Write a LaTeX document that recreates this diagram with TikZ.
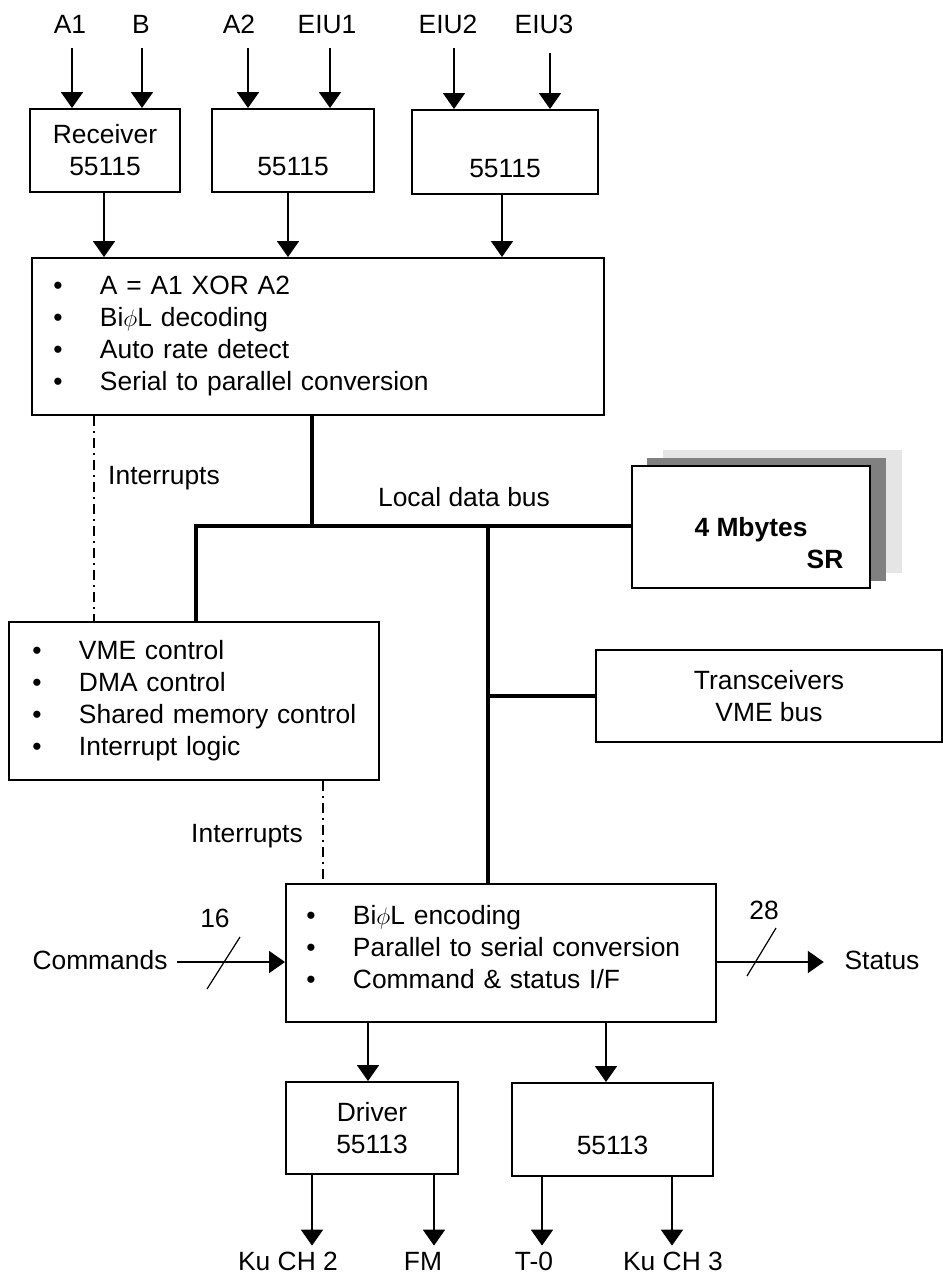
\documentclass[tikz,border=0pt]{standalone}
\usepackage{fontspec}
\setmainfont{Liberation Sans}
\usetikzlibrary{arrows.meta,calc}
\newcommand\dfont{\fontsize{13.2}{16}\selectfont}
\newcommand\bitem[1]{\mbox{\makebox[23.3pt][l]{\textbullet}#1}}
\tikzset{
  blk/.style={draw,line width=1pt,align=center,inner sep=0pt},
  lst/.style={draw,line width=1pt,align=left,inner ysep=0pt},
  lbl/.style={inner sep=0pt,text height=9.5pt,text depth=2.5pt},
  arr/.style={-{Triangle[length=8pt,width=11pt]},line width=1pt},
  bus/.style={line width=2.4pt},
  irq/.style={line width=.75pt,dash pattern=on 5pt off 2.5pt on 1pt off 2.5pt},
  tick/.style={line width=.6pt}
}

\begin{document}
\begin{tikzpicture}[x=0.5pt,y=-0.5pt,font=\dfont]
  \useasboundingbox (0,0) rectangle (943,1276);
  % inputs and receivers
  \node[lbl] (a1) at (70,26) {A1};
  \node[lbl] (b) at (141,26) {B};
  \node[lbl] (a2) at (239,26) {A2};
  \node[lbl] (e1) at (327,26) {EIU1};
  \node[lbl] (e2) at (448,26) {EIU2};
  \node[lbl] (e3) at (544,26) {EIU3};
  \node[blk,minimum width=75pt,minimum height=41.5pt] (rx) at (105,150.5) {Receiver\\55115};
  \node[blk,minimum width=81pt,minimum height=41.5pt] (r2) at (293,150.5) {\vphantom{0}\\55115};
  \node[blk,minimum width=93pt,minimum height=42pt] (r3) at (505,152) {\vphantom{0}\\55115};
  \foreach \x/\s/\t/\g in {72/a1/rx/5, 142/b/rx/5, 248/a2/r2/5, 330/e1/r2/5, 454/e2/r3/5, 550/e3/r3/7.5} {
    \coordinate (o) at (\x,0);
    \draw[arr,shorten <=\g pt] (o |- \s.south) -- (o |- \t.north);
  }

  % decoder
  \node[lst,text width=264.6pt,inner xsep=10.7pt,minimum height=78.5pt] (dec) at (318,336.5)
    {\bitem{A = A1 XOR A2}\\\bitem{Bi$\phi$L decoding}\\\bitem{Auto rate detect}\\\bitem{Serial to parallel conversion}};
  \foreach \x/\s in {104/rx, 288/r2, 502/r3} {
    \coordinate (o) at (\x,0);
    \draw[arr] (o |- \s.south) -- (o |- dec.north);
  }

  % memory, control, transceivers
  \node[fill=black!10,minimum width=119.5pt,minimum height=61.5pt] (sh2) at (782.5,511.5) {};
  \node[fill=black!50,minimum width=119.5pt,minimum height=61.5pt] (sh1) at (766.5,519.5) {};
  \node[blk,fill=white,minimum width=119pt,minimum height=61pt,font=\dfont\bfseries] (sr) at (751,527)
    {\vphantom{0}\\4 Mbytes\\\hspace*{74pt}SR};
  \node[lst,text width=161.6pt,inner xsep=11.7pt,minimum height=79pt] (ctl) at (194,701)
    {\bitem{VME control}\\\bitem{DMA control}\\\bitem{Shared memory control}\\\bitem{Interrupt logic}};
  \node[blk,minimum width=173pt,minimum height=46pt] (trx) at (769,696) {Transceivers\\VME bus};

  % encoder
  \node[lst,text width=194.6pt,inner xsep=10.2pt,minimum height=69pt] (enc) at (501,953)
    {\bitem{Bi$\phi$L encoding}\\\bitem{Parallel to serial conversion}\\\bitem{Command \& status I/F}\\[-10pt]\mbox{}};

  % local bus
  \coordinate (j1) at (312,526);
  \coordinate (j2) at (196,526);
  \coordinate (j3) at (488,526);
  \coordinate (j4) at (488,696);
  \draw[bus] (j1 |- dec.south) -- (j1);
  \draw[bus] (j2 |- ctl.north) -- (j2) -- (j2 -| sr.west);
  \draw[bus] (j3) -- (j3 |- enc.north);
  \draw[bus] (j4) -- (j4 -| trx.west);
  \node[lbl] (lb) at (464,499) {Local data bus};

  % interrupts
  \coordinate (i1) at (94,500);
  \coordinate (i2) at (323,830);
  \draw[irq] (i1 |- dec.south) -- (i1 |- ctl.north);
  \draw[irq] (i2 |- ctl.south) -- (i2 |- enc.north);
  \node[lbl] (q1) at (164,477) {Interrupts};
  \node[lbl] (q2) at (247,835) {Interrupts};

  % commands and status
  \node[lbl] (cmd) at (100,962) {Commands};
  \node[lbl] (st) at (882,962) {Status};
  \draw[arr] ([xshift=4.5pt]cmd.east) -- (cmd.east -| enc.west);
  \draw[arr,shorten >=10.2pt] (st.west -| enc.east) -- (st.west);
  \draw[tick] (207,989) -- (240,937);
  \draw[tick] (747,976) -- (776,928);
  \node[lbl] (n16) at (215,920) {16};
  \node[lbl] (n28) at (764,912) {28};

  % drivers
  \node[blk,minimum width=86pt,minimum height=46pt] (dr1) at (372,1128) {Driver\\55113};
  \node[blk,minimum width=100.5pt,minimum height=46.5pt] (dr2) at (612.5,1129.5) {\vphantom{0}\\55113};
  \foreach \x/\t in {368/dr1, 606/dr2} {
    \coordinate (o) at (\x,0);
    \draw[arr] (o |- enc.south) -- (o |- \t.north);
  }
  \node[lbl] (k2) at (288,1263) {Ku CH 2};
  \node[lbl] (fm) at (423,1263) {FM};
  \node[lbl] (t0) at (534,1263) {T-0};
  \node[lbl] (k3) at (673,1263) {Ku CH 3};
  \foreach \x/\s/\t in {312/dr1/k2, 434/dr1/fm, 542/dr2/t0, 672/dr2/k3} {
    \coordinate (o) at (\x,0);
    \draw[arr,shorten >=2.5pt] (o |- \s.south) -- (o |- \t.north);
  }
\end{tikzpicture}
\end{document}
